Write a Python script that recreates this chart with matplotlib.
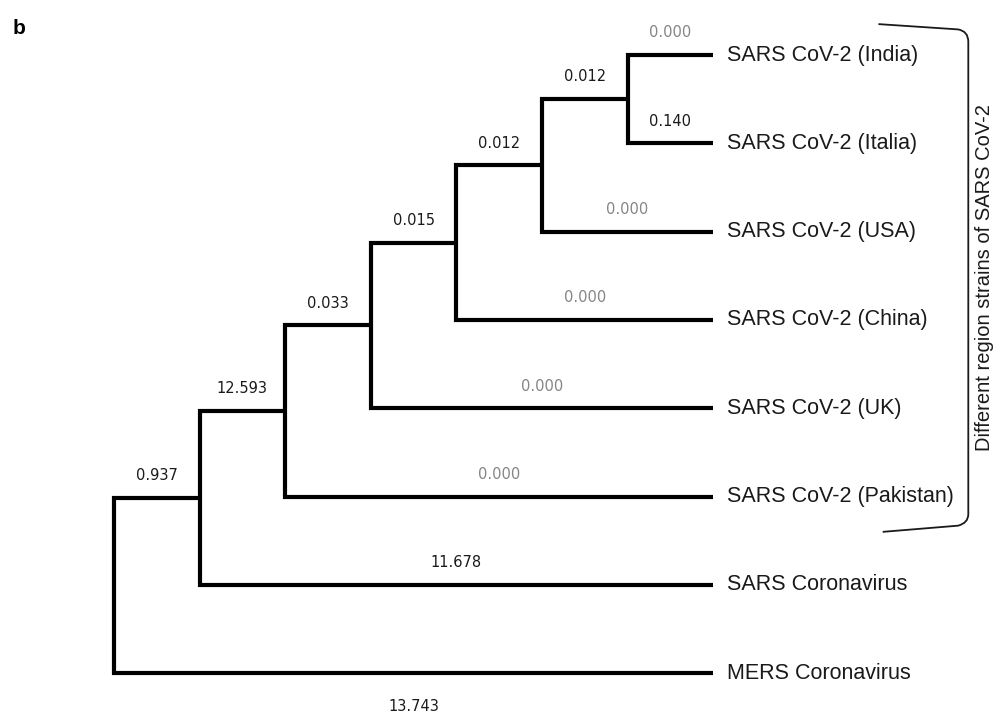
import matplotlib
matplotlib.use("Agg")
import matplotlib.pyplot as plt
from matplotlib.path import Path
from matplotlib.patches import PathPatch

# tree data: leaves top to bottom, merges as (child, child) with internal nodes numbered after leaves
leaves = ["SARS CoV-2 (India)", "SARS CoV-2 (Italia)", "SARS CoV-2 (USA)",
          "SARS CoV-2 (China)", "SARS CoV-2 (UK)", "SARS CoV-2 (Pakistan)",
          "SARS Coronavirus", "MERS Coronavirus"]
leaf_lengths = ["0.000", "0.140", "0.000", "0.000", "0.000", "0.000", "11.678", "13.743"]
merges = [(0, 1), (8, 2), (9, 3), (10, 4), (11, 5), (12, 6), (13, 7)]
inner_lengths = ["0.012", "0.012", "0.015", "0.033", "12.593", "0.937"]
group_label = "Different region strains of SARS CoV-2"
group_leaves = [0, 5]

n = len(leaves)
nodes = n + len(merges)
root = nodes - 1

ypos = {i: float(i) for i in range(n)}
children = {}
for k, (a, b) in enumerate(merges):
    ypos[n + k] = (ypos[a] + ypos[b]) / 2
    children[n + k] = (a, b)

# cladogram depth: root at 0, each internal level one step, tips aligned
depth = {root: 0}
for p in range(root, n - 1, -1):
    for c in children[p]:
        if c >= n:
            depth[c] = depth[p] + 1
tip = max(depth.values()) + 1
for i in range(n):
    depth[i] = tip

labels = {i: leaf_lengths[i] for i in range(n)}
for k, v in enumerate(inner_lengths):
    labels[n + k] = v

fig = plt.figure(figsize=(10.01, 7.18), dpi=100)
ax = fig.add_axes([0, 0, 1, 1])
ax.set_xlim(-1.332, 10.362)
ax.set_ylim(7.508, -0.623)
ax.axis("off")

for p, (a, b) in children.items():
    for c in (a, b):
        ax.plot([depth[p], depth[p], depth[c]], [ypos[p], ypos[c], ypos[c]],
                color="black", lw=3, solid_joinstyle="miter", solid_capstyle="butt")
        xm = (depth[p] + depth[c]) / 2
        txt = labels[c]
        col = "#858585" if txt == "0.000" else "#1a1a1a"
        below = c == n - 1
        ax.annotate(txt, (xm, ypos[c]), xytext=(0, -24 if below else 16),
                    textcoords="offset points", ha="center", va="center",
                    fontsize=10.5, color=col, family="DejaVu Sans")

for i, name in enumerate(leaves):
    ax.annotate(name, (depth[i], ypos[i]), xytext=(10, 0), textcoords="offset points",
                ha="left", va="center", fontsize=15.5, color="#1a1a1a",
                family="Liberation Sans")

# bracket around the SARS CoV-2 strains
top = group_leaves[0] - 0.35
bot = group_leaves[1] + 0.40
xs = tip + 1.93
xv = tip + 2.98
verts = [(xs, top), (xv - 0.12, top + 0.06), (xv, top + 0.08), (xv, top + 0.2),
         (xv, bot - 0.2), (xv, bot - 0.1), (xv - 0.12, bot - 0.07), (xs + 0.05, bot)]
codes = [Path.MOVETO, Path.LINETO, Path.CURVE3, Path.CURVE3,
         Path.LINETO, Path.CURVE3, Path.CURVE3, Path.LINETO]
ax.add_patch(PathPatch(Path(verts, codes), fill=False, lw=1.3, edgecolor="#1a1a1a"))
ax.text(tip + 3.175, (group_leaves[0] + group_leaves[1]) / 2 + 0.02, group_label,
        rotation=90, ha="center", va="center", fontsize=14.5, color="#1a1a1a",
        family="Liberation Sans")

fig.text(0.013, 1 - 28 / 718, "b", fontsize=15, fontweight="bold", va="center",
         ha="left", family="Liberation Sans")

fig.savefig("out.png", dpi=100)
